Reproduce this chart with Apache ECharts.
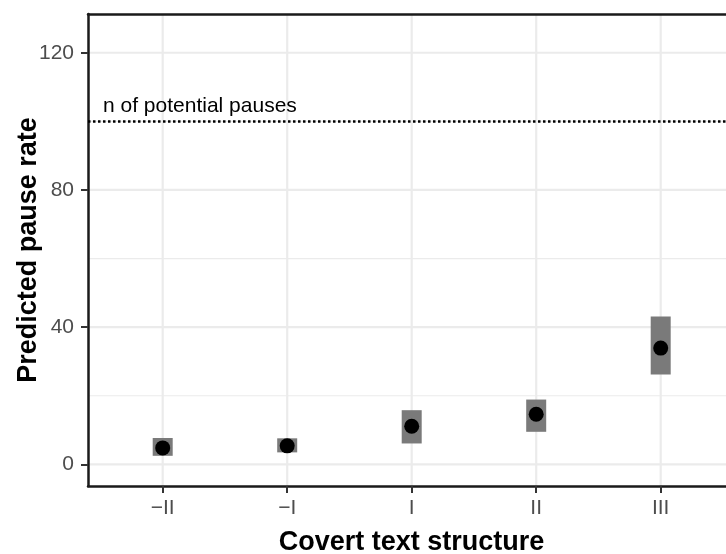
<!DOCTYPE html>
<html>
<head>
<meta charset="utf-8">
<script src="https://cdn.jsdelivr.net/npm/echarts@6/dist/echarts.min.js"></script>
<style>html,body{margin:0;padding:0;background:#fff}#c{width:726px;height:554px}</style>
</head>
<body>
<div id="c"></div>
<script>
// ---- data ----
var categories = ['\u2212II', '\u2212I', 'I', 'II', 'III'];
var categoryPos = [1, 2, 3, 4, 5];
var predicted = [4.8, 5.4, 11.1, 14.6, 33.9];
var lower = [2.5, 3.5, 6.1, 9.5, 26.2];
var upper = [7.7, 7.6, 15.8, 18.9, 43.1];
var yTicks = [0, 40, 80, 120];
var yMinor = [20, 60, 100];
var potentialPauses = 100;
var refLabel = 'n of potential pauses';
var xTitle = 'Covert text structure';
var yTitle = 'Predicted pause rate';

var FONT = '"Liberation Sans", Arial, Helvetica, sans-serif';
var X_MIN = 0.4, X_MAX = 5.5245, Y_MIN = -6.3, Y_MAX = 131.3;
var chart = echarts.init(document.getElementById('c'), null, {renderer: 'canvas'});

function gridRender(dir, width) {
  return function (params, api) {
    var cs = params.coordSys;
    var v = api.value(0);
    var shape;
    if (dir === 'h') {
      var y = api.coord([1, v])[1];
      shape = {x1: cs.x, y1: y, x2: cs.x + cs.width, y2: y};
    } else {
      var x = api.coord([v, 0])[0];
      shape = {x1: x, y1: cs.y, x2: x, y2: cs.y + cs.height};
    }
    return {type: 'line', shape: shape, style: {stroke: '#ebebeb', lineWidth: width}, silent: true};
  };
}

var rangeData = categoryPos.map(function (p, i) { return [p, lower[i], upper[i]]; });
var pointData = categoryPos.map(function (p, i) { return [p, predicted[i]]; });
var axisLineStyle = {color: '#1a1a1a', width: 2.5};

chart.setOption({
  animation: false,
  backgroundColor: '#ffffff',
  grid: {left: 88, top: 14, bottom: 68, right: 0, show: false, containLabel: false, outerBoundsMode: 'none'},
  xAxis: [{
    type: 'value', min: X_MIN, max: X_MAX,
    name: xTitle, nameLocation: 'middle', nameGap: 43, nameMoveOverlap: false,
    nameTextStyle: {fontFamily: FONT, fontSize: 27, fontWeight: 'bold', color: '#000', padding: [0, 0, 0, 9]},
    axisLine: {show: true, onZero: false, lineStyle: axisLineStyle},
    axisTick: {show: true, customValues: categoryPos, length: 7, lineStyle: {color: '#333', width: 2}},
    axisLabel: {customValues: categoryPos, margin: 12, fontFamily: FONT, fontSize: 21, color: '#4d4d4d',
      formatter: function (v) { return categories[Math.round(v) - 1]; }},
    splitLine: {show: false}
  }, {
    type: 'value', position: 'top', min: X_MIN, max: X_MAX,
    axisLine: {show: true, onZero: false, lineStyle: axisLineStyle},
    axisTick: {show: false}, axisLabel: {show: false}, splitLine: {show: false}
  }],
  yAxis: {
    type: 'value', min: Y_MIN, max: Y_MAX,
    name: yTitle, nameLocation: 'middle', nameGap: 46, nameRotate: 90, nameMoveOverlap: false,
    nameTextStyle: {fontFamily: FONT, fontSize: 27, fontWeight: 'bold', color: '#000'},
    axisLine: {show: true, onZero: false, lineStyle: axisLineStyle},
    axisTick: {show: true, customValues: yTicks, length: 7, lineStyle: {color: '#333', width: 2}},
    axisLabel: {customValues: yTicks, margin: 14, fontFamily: FONT, fontSize: 21, color: '#4d4d4d'},
    splitLine: {show: false}
  },
  series: [
    {type: 'custom', data: yMinor.map(function (v) { return [v]; }), renderItem: gridRender('h', 1.1), z: 0, silent: true},
    {type: 'custom', data: yTicks.map(function (v) { return [v]; }), renderItem: gridRender('h', 2.2), z: 0, silent: true},
    {type: 'custom', data: categoryPos.map(function (v) { return [v]; }), renderItem: gridRender('v', 2.2), z: 0, silent: true},
    {
      type: 'custom', data: rangeData, z: 2,
      renderItem: function (params, api) {
        var top = api.coord([api.value(0), api.value(2)]);
        var bot = api.coord([api.value(0), api.value(1)]);
        var w = 20;
        return {type: 'rect', shape: {x: top[0] - w / 2, y: top[1], width: w, height: bot[1] - top[1]},
          style: {fill: '#7a7a7a'}};
      }
    },
    {
      type: 'scatter', data: pointData, symbol: 'circle', symbolSize: 15, z: 3,
      itemStyle: {color: '#000', opacity: 1},
      markLine: {
        silent: true, symbol: 'none',
        lineStyle: {color: '#000', width: 2.5, type: [2.5, 2.5]},
        label: {show: true, position: 'insideStartTop', formatter: refLabel, distance: [15, 5],
          fontFamily: FONT, fontSize: 21, color: '#000'},
        data: [{yAxis: potentialPauses}]
      }
    }
  ]
});
</script>
</body>
</html>
